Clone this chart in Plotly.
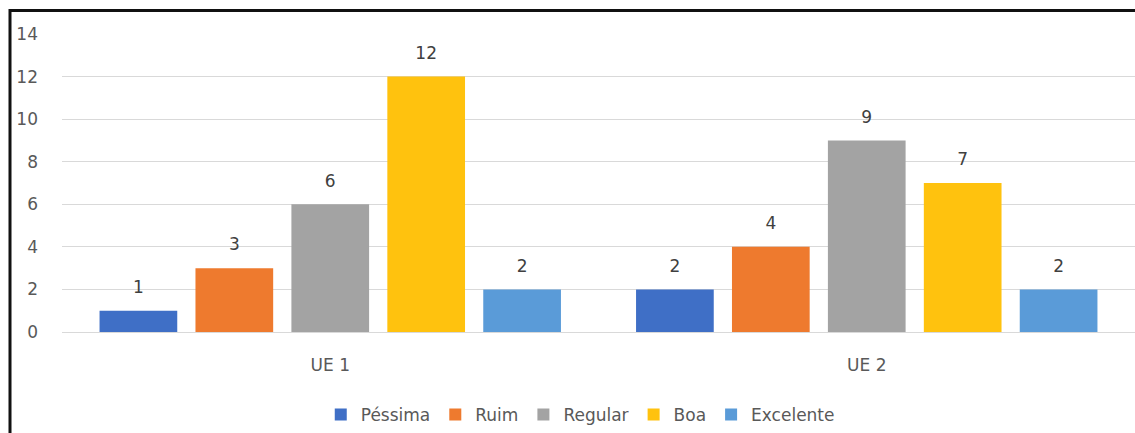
import plotly.graph_objects as go

categories = ["UE 1", "UE 2"]
series_names = ["Péssima", "Ruim", "Regular", "Boa", "Excelente"]
pessima = [1, 2]
ruim = [3, 4]
regular = [6, 9]
boa = [12, 7]
excelente = [2, 2]
y_ticks = [0, 2, 4, 6, 8, 10, 12, 14]

colors = ["#3F6FC6", "#EE7A2E", "#A3A3A3", "#FFC20E", "#5A9BD8"]
values = [pessima, ruim, regular, boa, excelente]
FONT = "DejaVu Sans"

fig = go.Figure()
for name, vals, col in zip(series_names, values, colors):
    fig.add_trace(go.Bar(
        x=categories, y=vals, name=name,
        marker=dict(color=col, line=dict(width=0)),
    ))
# value labels, grouped like the bars
for name, vals in zip(series_names, values):
    fig.add_trace(go.Scatter(
        x=categories, y=vals, mode="markers+text", showlegend=False,
        marker=dict(size=20, opacity=0), hoverinfo="skip",
        text=[str(v) for v in vals], textposition="top center",
        textfont=dict(size=17, color="#404040", family=FONT),
        cliponaxis=False,
    ))

W, H = 1135, 433
ml, mr, mt, mb = 62, 0, 34, 101
pw = W - ml - mr
ph = H - mt - mb

fig.update_layout(
    width=W, height=H,
    margin=dict(l=ml, r=mr, t=mt, b=mb, autoexpand=False),
    paper_bgcolor="white", plot_bgcolor="white",
    barmode="group", bargap=0.106, bargroupgap=0.19,
    scattermode="group", scattergap=0.106,
    font=dict(family=FONT, color="#595959", size=17),
    showlegend=True,
    legend=dict(orientation="h", x=0.483, xanchor="center", y=(332 - 415) / ph,
                yanchor="middle", font=dict(size=17, color="#595959", family=FONT),
                itemwidth=30, tracegroupgap=0),
)
fig.update_yaxes(range=[0, 14], tickvals=y_ticks, showgrid=True, gridcolor="#D9D9D9",
                 gridwidth=1, zeroline=False, showline=False, ticks="",
                 tickfont=dict(size=17, color="#595959"), ticklabelstandoff=23)
fig.update_xaxes(showgrid=False, showline=True, linecolor="#D9D9D9", linewidth=1,
                 ticks="", tickfont=dict(size=17, color="#595959"), ticklabelstandoff=18)

# outer frame
fig.add_shape(type="rect", xref="paper", yref="paper",
              x0=(10 - ml) / pw, x1=1.05, y0=-0.6, y1=(332 - 10.5) / ph,
              line=dict(color="#111111", width=3), fillcolor="rgba(0,0,0,0)", layer="above")

fig.write_html("out.html")
